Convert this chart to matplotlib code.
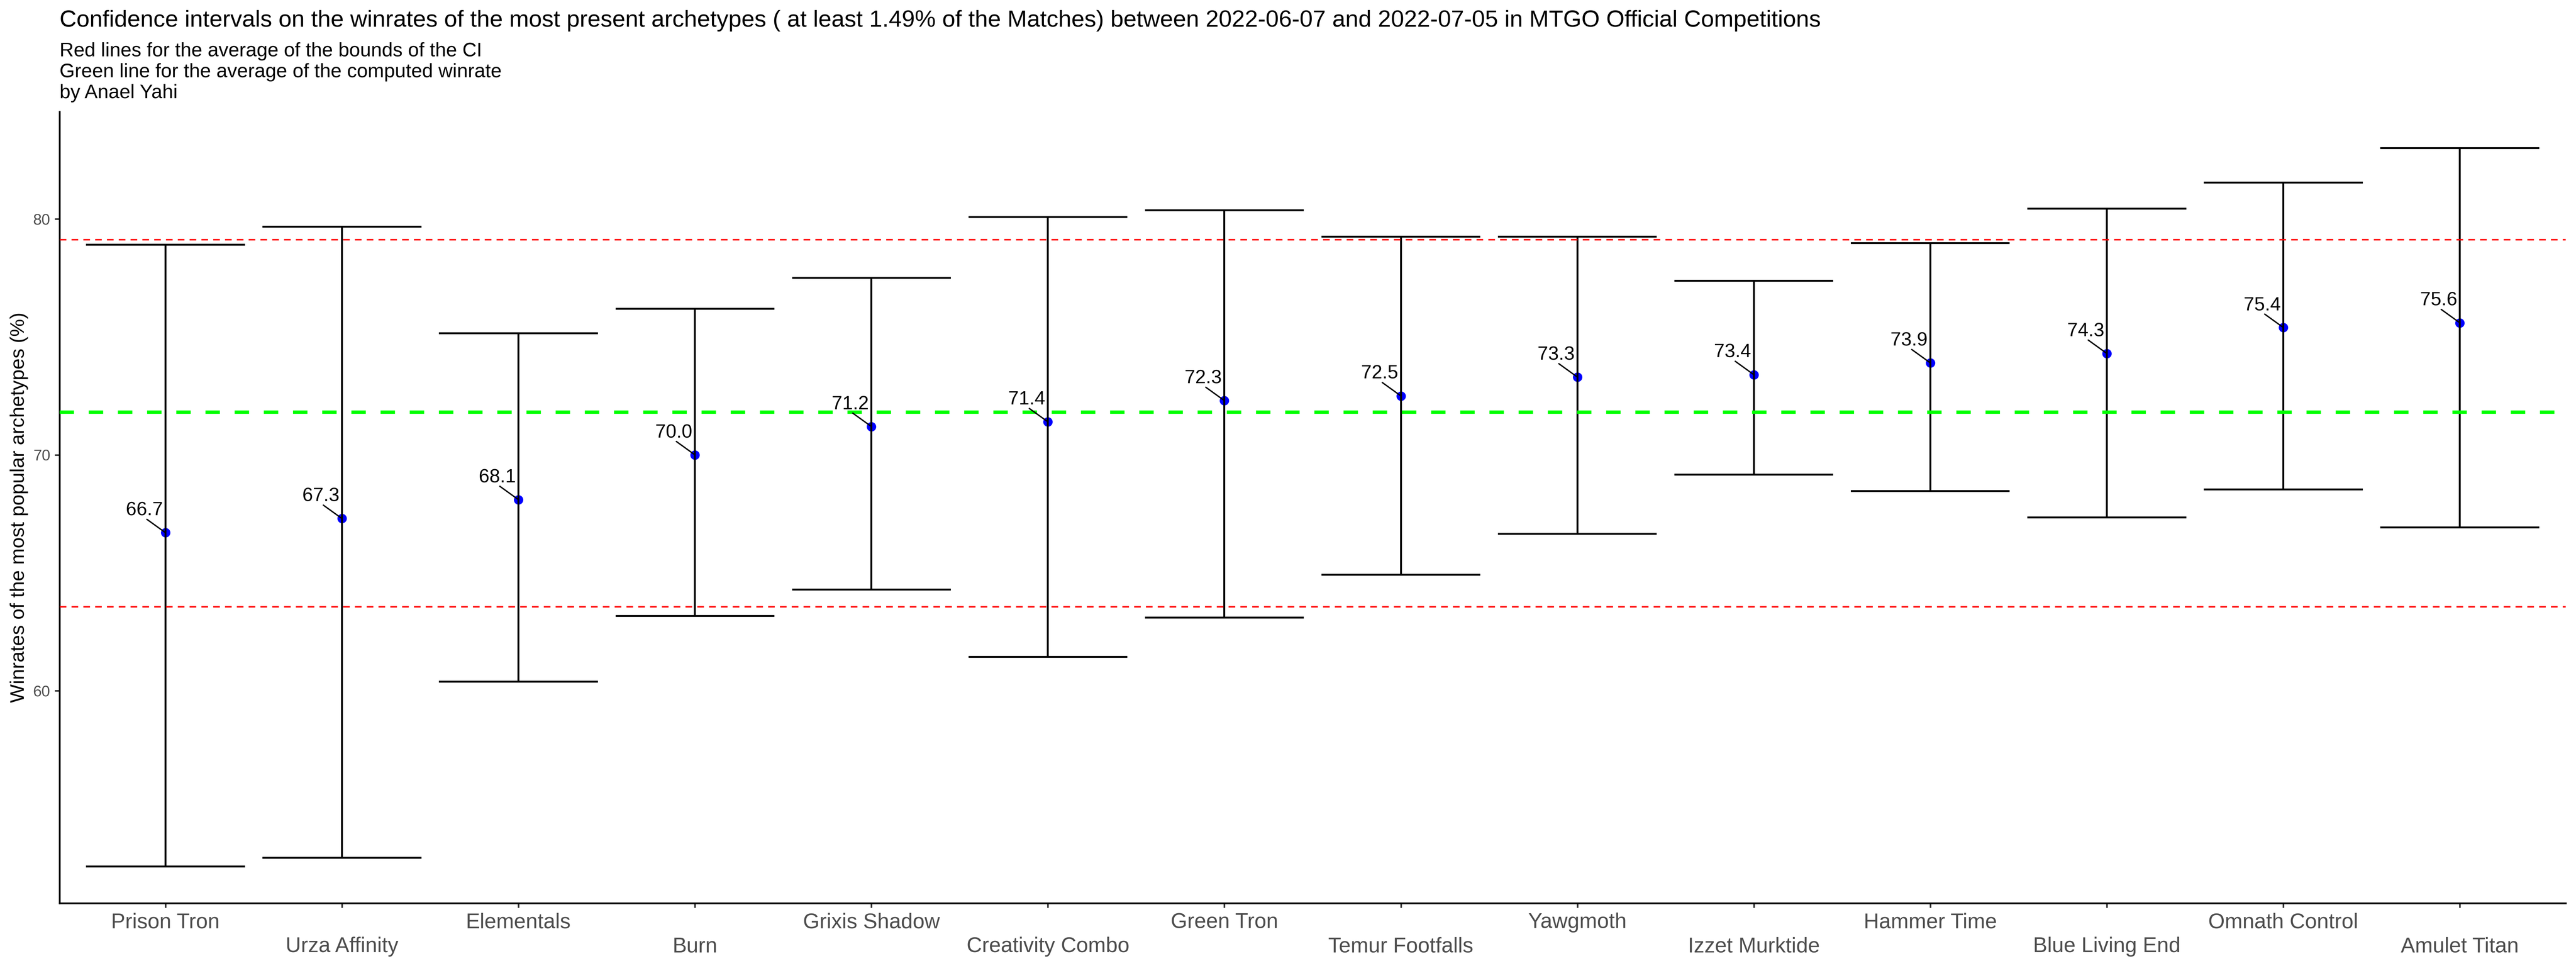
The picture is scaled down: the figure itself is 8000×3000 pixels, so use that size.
import matplotlib
matplotlib.use("Agg")
import matplotlib.pyplot as plt
from matplotlib.ticker import FixedLocator
import numpy as np

# ---------------- data ----------------
archetypes = ["Prison Tron", "Urza Affinity", "Elementals", "Burn", "Grixis Shadow",
              "Creativity Combo", "Green Tron", "Temur Footfalls", "Yawgmoth",
              "Izzet Murktide", "Hammer Time", "Blue Living End", "Omnath Control",
              "Amulet Titan"]
winrate = [66.7, 67.3, 68.1, 70.0, 71.2, 71.4, 72.3, 72.5, 73.3, 73.4, 73.9, 74.3, 75.4, 75.6]
ci_low = [52.54, 52.91, 60.39, 63.17, 64.29, 61.44, 63.10, 64.92, 66.65, 69.16,
          68.47, 67.35, 68.53, 66.93]
ci_high = [78.91, 79.67, 75.15, 76.19, 77.51, 80.09, 80.37, 79.25, 79.25, 77.38,
           78.98, 80.44, 81.55, 83.01]
y_ticks = [60, 70, 80]

title = ("Confidence intervals on the winrates of the most present archetypes ( at least 1.49% "
         "of the Matches) between 2022-06-07 and 2022-07-05 in MTGO Official Competitions")
subtitle_lines = ["Red lines for the average of the bounds of the CI",
                  "Green line for the average of the computed winrate",
                  "by Anael Yahi"]
ylabel = "Winrates of the most popular archetypes (%)"

# ---------------- style ----------------
plt.rcParams['font.family'] = ['Liberation Sans', 'DejaVu Sans']
W, H, DPI = 8000, 3000, 300
fig = plt.figure(figsize=(W / DPI, H / DPI), dpi=DPI, facecolor='white')

ax_left, ax_right = 185 / W, 7968 / W
ax_bottom, ax_top = 1 - 2805 / H, 1 - 347 / H
ax = fig.add_axes([ax_left, ax_bottom, ax_right - ax_left, ax_top - ax_bottom])

x = np.arange(1, len(archetypes) + 1)
ax.set_xlim(0.4, len(archetypes) + 0.6)
ax.set_ylim(50.99, 84.55)

# points (below the error bars)
ax.scatter(x, winrate, s=7.0 ** 2, color='#0000FF', linewidths=0, zorder=2)

# error bars
ax.vlines(x, ci_low, ci_high, color='black', lw=1.4, zorder=3)
ax.hlines(ci_low, x - 0.45, x + 0.45, color='black', lw=1.4, zorder=3)
ax.hlines(ci_high, x - 0.45, x + 0.45, color='black', lw=1.4, zorder=3)

# average lines
ax.axhline(np.mean(ci_high), color='#FF0000', lw=1.1, dashes=(4.5, 3.5), zorder=4)
ax.axhline(np.mean(ci_low), color='#FF0000', lw=1.1, dashes=(4.5, 3.5), zorder=4)
ax.axhline(np.mean(winrate), color='#00FF00', lw=2.5, dashes=(4.3, 4.4), zorder=4)

# value labels with leader segments
for xi, w in zip(x, winrate):
    ax.annotate(f"{w:.1f}", xy=(xi, w), xytext=(-15.8, 16.6), textcoords='offset points',
                ha='center', va='center', fontsize=14.2, color='black', zorder=5,
                arrowprops=dict(arrowstyle='-', color='black', lw=1.0, shrinkA=0, shrinkB=0,
                                relpos=(0.57, 0.0), patchA=None))

# axes styling
for s in ['top', 'right']:
    ax.spines[s].set_visible(False)
for s in ['left', 'bottom']:
    ax.spines[s].set_linewidth(1.3)
    ax.spines[s].set_color('black')

ax.yaxis.set_major_locator(FixedLocator(y_ticks))
ax.set_yticklabels([str(t) for t in y_ticks])
ax.tick_params(axis='y', length=3.5, width=1.2, color='#333333', labelsize=11.5,
               labelcolor='#4D4D4D', pad=3.4)
ax.xaxis.set_major_locator(FixedLocator(x))
ax.tick_params(axis='x', length=3.4, width=1.2, color='#333333', labelbottom=False)

# dodged x labels (two rows)
for i, (xi, name) in enumerate(zip(x, archetypes)):
    off = -18.5 if i % 2 == 0 else -36.5
    ax.annotate(name, xy=(xi, 0), xycoords=('data', 'axes fraction'), xytext=(0, off),
                textcoords='offset points', ha='center', va='baseline', fontsize=15.8,
                color='#4D4D4D', annotation_clip=False)

# titles
fig.text(185 / W, 1 - 83 / H, title, ha='left', va='baseline', fontsize=17.5, color='black')
for k, line in enumerate(subtitle_lines):
    fig.text(185 / W, 1 - (175 + 65 * k) / H, line, ha='left', va='baseline',
             fontsize=14.6, color='black')

fig.text(60 / W, 1 - 1576 / H, ylabel, rotation=90, ha='center', va='center',
         fontsize=14.7, color='black')

fig.savefig('out.png', dpi=DPI, facecolor='white')
